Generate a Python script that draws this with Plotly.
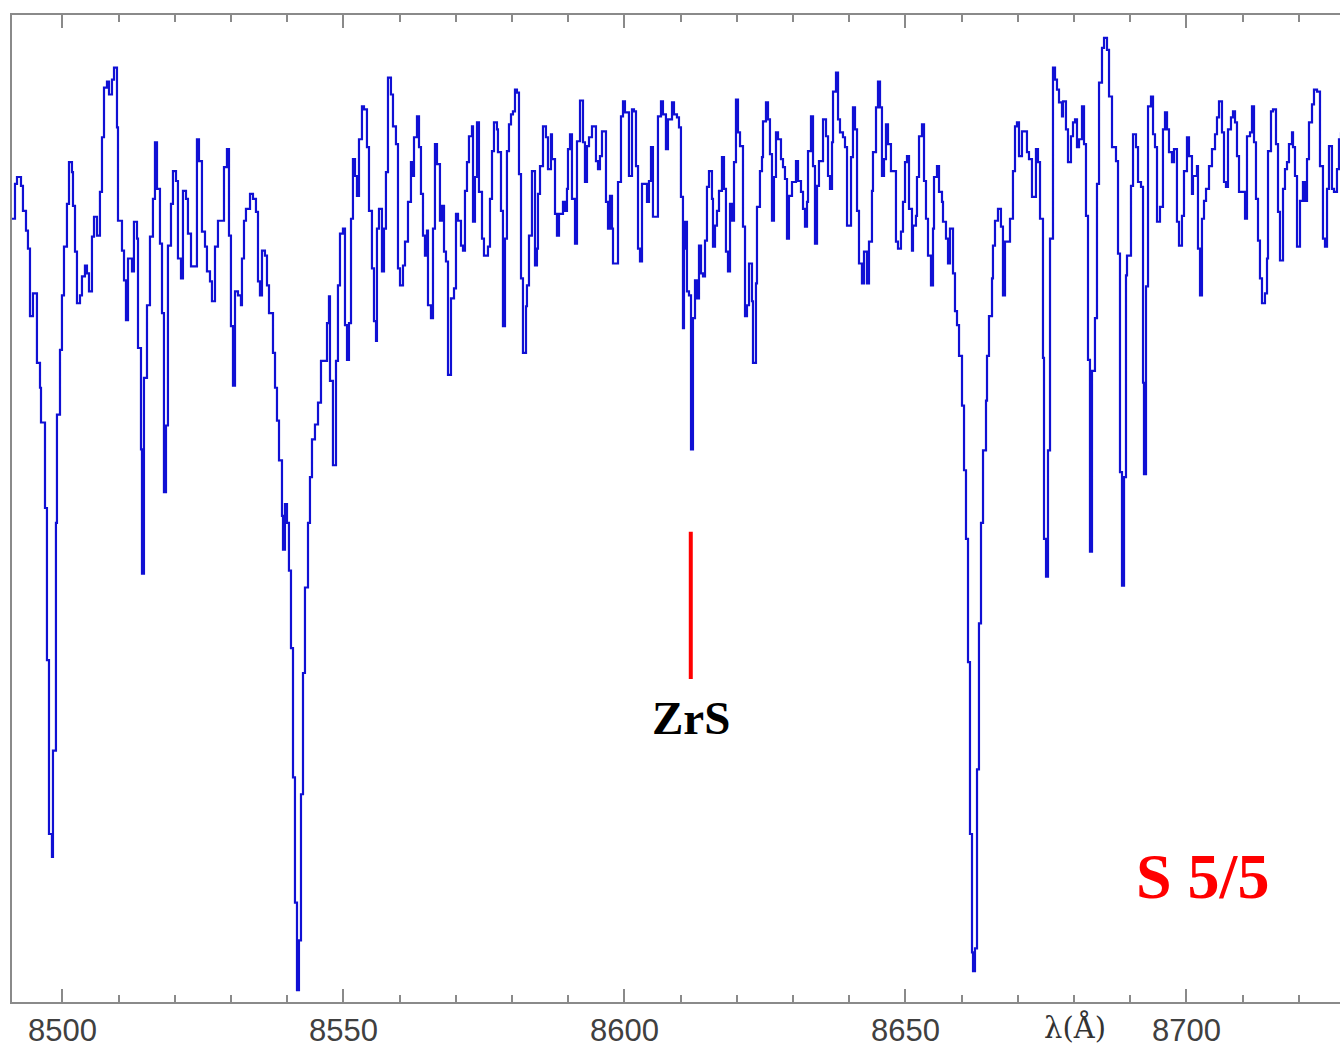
import plotly.graph_objects as go

# Observed spectrum of the S-type star around the Ca II triplet (step-binned)
wavelength = [
    8491.02, 8491.55, 8491.91, 8492.62, 8492.97, 8493.51, 8493.86, 8494.22, 8494.75, 8495.46,
    8496.00, 8496.18, 8496.89, 8497.24, 8497.60, 8498.13, 8498.31, 8498.84, 8499.02, 8499.56,
    8499.91, 8500.27, 8500.80, 8501.16, 8501.69, 8501.87, 8502.23, 8502.58, 8503.12, 8503.47,
    8504.00, 8504.36, 8504.72, 8505.25, 8505.61, 8506.14, 8506.67, 8507.03, 8507.39, 8507.92,
    8508.28, 8508.81, 8509.17, 8509.70, 8509.88, 8510.59, 8510.95, 8511.30, 8511.66, 8512.37,
    8512.72, 8513.26, 8513.44, 8513.97, 8514.15, 8514.50, 8515.04, 8515.57, 8516.10, 8516.46,
    8516.82, 8517.35, 8517.71, 8518.06, 8518.42, 8518.77, 8519.31, 8519.66, 8520.20, 8520.55,
    8521.09, 8521.44, 8521.98, 8522.33, 8522.87, 8523.93, 8524.29, 8524.82, 8525.36, 8525.71,
    8526.25, 8526.60, 8527.14, 8527.67, 8528.74, 8529.27, 8529.63, 8529.98, 8530.34, 8530.70,
    8531.23, 8531.76, 8531.94, 8532.30, 8532.65, 8533.37, 8533.90, 8534.43, 8534.79, 8535.14,
    8535.50, 8536.03, 8536.39, 8536.75, 8537.46, 8537.82, 8538.17, 8538.53, 8539.06, 8539.24,
    8539.59, 8539.95, 8540.30, 8540.66, 8541.02, 8541.37, 8541.73, 8542.08, 8542.44, 8542.80,
    8543.15, 8543.69, 8544.04, 8544.40, 8544.93, 8545.47, 8546.00, 8547.07, 8547.42, 8547.60,
    8548.13, 8548.67, 8549.02, 8549.38, 8549.91, 8550.27, 8550.63, 8550.98, 8551.34, 8551.69,
    8552.05, 8552.40, 8552.76, 8553.29, 8553.65, 8554.18, 8554.54, 8555.07, 8555.43, 8555.79,
    8555.96, 8556.32, 8556.85, 8557.21, 8557.56, 8557.92, 8558.45, 8558.81, 8559.34, 8559.70,
    8560.06, 8560.59, 8560.95, 8561.48, 8562.01, 8562.19, 8562.55, 8563.08, 8563.44, 8563.79,
    8564.15, 8564.50, 8564.86, 8565.04, 8565.57, 8565.93, 8566.28, 8566.64, 8567.17, 8567.53,
    8567.89, 8568.24, 8568.60, 8569.13, 8569.67, 8570.02, 8570.38, 8570.91, 8571.27, 8571.62,
    8571.98, 8572.33, 8572.87, 8573.05, 8573.40, 8573.76, 8574.11, 8574.65, 8575.00, 8575.71,
    8576.07, 8576.43, 8576.78, 8577.31, 8577.49, 8578.03, 8578.38, 8578.74, 8579.09, 8579.45,
    8579.81, 8580.16, 8580.52, 8580.87, 8581.23, 8581.59, 8581.94, 8582.48, 8582.65, 8583.01,
    8583.54, 8584.08, 8584.43, 8584.61, 8584.97, 8585.50, 8586.03, 8586.39, 8586.92, 8587.10,
    8587.64, 8587.99, 8588.35, 8589.06, 8589.42, 8589.77, 8589.95, 8590.31, 8590.66, 8591.20,
    8591.55, 8592.09, 8592.62, 8592.97, 8593.33, 8593.69, 8594.22, 8594.93, 8595.29, 8595.64,
    8596.00, 8596.71, 8597.07, 8597.42, 8597.78, 8597.96, 8598.85, 8599.38, 8599.74, 8600.09,
    8600.80, 8601.34, 8601.69, 8602.05, 8602.41, 8602.76, 8603.12, 8604.01, 8604.36, 8604.72,
    8605.07, 8605.96, 8606.50, 8606.85, 8607.38, 8607.74, 8608.46, 8608.81, 8609.34, 8609.70,
    8610.05, 8610.41, 8610.59, 8610.77, 8611.12, 8611.48, 8611.84, 8612.19, 8612.55, 8612.90,
    8613.26, 8613.62, 8613.97, 8614.33, 8614.68, 8615.04, 8615.57, 8615.75, 8616.11, 8616.46,
    8616.82, 8617.35, 8617.71, 8618.06, 8618.42, 8618.78, 8619.13, 8619.49, 8619.84, 8620.20,
    8620.56, 8621.09, 8621.45, 8621.80, 8622.16, 8622.69, 8622.87, 8623.40, 8623.58, 8624.11,
    8624.47, 8624.65, 8625.18, 8625.54, 8625.89, 8626.25, 8626.60, 8626.96, 8627.32, 8627.85,
    8628.21, 8628.56, 8628.92, 8629.27, 8629.81, 8630.52, 8630.88, 8631.41, 8631.77, 8632.12,
    8632.48, 8632.66, 8633.19, 8633.55, 8633.90, 8634.26, 8634.61, 8635.33, 8635.86, 8636.22,
    8636.57, 8636.93, 8637.11, 8637.64, 8638.00, 8638.35, 8638.88, 8639.24, 8639.60, 8640.31,
    8640.66, 8641.02, 8641.38, 8641.73, 8642.26, 8642.62, 8643.15, 8643.51, 8644.04, 8644.22,
    8644.76, 8645.11, 8645.47, 8645.82, 8646.18, 8646.53, 8646.89, 8647.42, 8648.31, 8648.67,
    8649.20, 8649.56, 8649.92, 8650.27, 8650.63, 8651.16, 8651.34, 8651.87, 8652.05, 8652.41,
    8652.94, 8653.30, 8653.65, 8654.01, 8654.54, 8654.90, 8655.08, 8655.61, 8655.97, 8656.50,
    8656.68, 8657.21, 8657.57, 8657.92, 8658.46, 8658.81, 8659.17, 8659.53, 8660.06, 8660.42,
    8660.77, 8661.13, 8661.48, 8661.84, 8662.02, 8662.37, 8662.73, 8663.08, 8663.44, 8663.80,
    8664.33, 8664.51, 8664.86, 8665.40, 8665.57, 8665.93, 8666.46, 8666.99, 8667.35, 8667.71,
    8668.60, 8669.13, 8669.49, 8669.84, 8670.20, 8670.73, 8671.62, 8671.98, 8672.51, 8673.22,
    8673.58, 8673.94, 8674.47, 8674.65, 8675.01, 8675.36, 8675.72, 8676.25, 8676.61, 8676.96,
    8677.32, 8677.85, 8678.03, 8678.56, 8678.92, 8679.45, 8679.81, 8680.17, 8680.52, 8680.88,
    8681.41, 8681.77, 8682.12, 8682.48, 8682.83, 8683.19, 8683.72, 8684.08, 8684.44, 8684.97,
    8685.33, 8685.86, 8686.22, 8686.75, 8687.46, 8687.82, 8688.17, 8688.53, 8688.89, 8689.24,
    8689.42, 8690.13, 8690.49, 8691.02, 8691.38, 8691.91, 8692.27, 8692.44, 8692.80, 8693.16,
    8693.69, 8694.05, 8694.40, 8694.76, 8695.29, 8695.82, 8696.18, 8696.54, 8696.89, 8697.42,
    8697.78, 8698.31, 8698.67, 8699.20, 8699.56, 8700.09, 8700.45, 8700.98, 8701.16, 8701.87,
    8702.05, 8702.41, 8702.76, 8703.12, 8703.48, 8704.01, 8704.54, 8705.08, 8705.43, 8705.79,
    8706.32, 8706.68, 8707.03, 8707.39, 8707.92, 8708.28, 8708.64, 8708.99, 8709.35, 8710.42,
    8710.77, 8711.31, 8711.66, 8712.02, 8712.37, 8712.73, 8713.08, 8713.44, 8713.97, 8714.33,
    8714.51, 8715.04, 8715.40, 8715.93, 8716.29, 8716.64, 8717.18, 8717.53, 8717.89, 8718.24,
    8718.78, 8718.96, 8719.31, 8719.67, 8720.20, 8720.73, 8721.09, 8721.45, 8721.80, 8722.34,
    8722.69, 8723.23, 8723.76, 8724.29, 8724.65, 8725.01, 8725.36, 8725.89, 8726.25, 8726.78,
    8727.14, 8727.50,
]

flux = [
    0.788, 0.823, 0.830, 0.821, 0.796, 0.776, 0.758, 0.690, 0.713, 0.643,
    0.618, 0.583, 0.497, 0.344, 0.169, 0.146, 0.253, 0.482, 0.591, 0.656,
    0.711, 0.760, 0.803, 0.845, 0.835, 0.801, 0.755, 0.703, 0.711, 0.730,
    0.741, 0.733, 0.715, 0.770, 0.790, 0.771, 0.815, 0.870, 0.920, 0.926,
    0.913, 0.928, 0.940, 0.880, 0.786, 0.756, 0.726, 0.686, 0.748, 0.735,
    0.785, 0.768, 0.658, 0.556, 0.431, 0.628, 0.701, 0.770, 0.808, 0.865,
    0.818, 0.763, 0.693, 0.513, 0.580, 0.761, 0.803, 0.836, 0.826, 0.748,
    0.728, 0.816, 0.808, 0.773, 0.740, 0.868, 0.846, 0.775, 0.760, 0.735,
    0.725, 0.705, 0.760, 0.786, 0.840, 0.858, 0.771, 0.680, 0.620, 0.715,
    0.711, 0.701, 0.748, 0.786, 0.798, 0.813, 0.808, 0.795, 0.725, 0.711,
    0.756, 0.751, 0.721, 0.693, 0.653, 0.618, 0.585, 0.545, 0.489, 0.455,
    0.501, 0.482, 0.434, 0.356, 0.226, 0.100, 0.012, 0.062, 0.209, 0.331,
    0.417, 0.482, 0.528, 0.566, 0.581, 0.603, 0.645, 0.683, 0.710, 0.625,
    0.540, 0.645, 0.721, 0.773, 0.778, 0.681, 0.646, 0.683, 0.788, 0.848,
    0.831, 0.811, 0.868, 0.901, 0.898, 0.860, 0.796, 0.738, 0.685, 0.665,
    0.778, 0.798, 0.735, 0.778, 0.835, 0.930, 0.913, 0.881, 0.863, 0.738,
    0.721, 0.741, 0.765, 0.805, 0.845, 0.831, 0.870, 0.891, 0.860, 0.813,
    0.771, 0.751, 0.776, 0.701, 0.688, 0.778, 0.863, 0.843, 0.786, 0.801,
    0.755, 0.745, 0.631, 0.708, 0.718, 0.793, 0.786, 0.761, 0.756, 0.816,
    0.845, 0.871, 0.881, 0.785, 0.830, 0.885, 0.815, 0.768, 0.751, 0.760,
    0.808, 0.856, 0.885, 0.878, 0.855, 0.796, 0.680, 0.768, 0.856, 0.883,
    0.893, 0.896, 0.918, 0.915, 0.833, 0.728, 0.653, 0.700, 0.721, 0.771,
    0.836, 0.741, 0.758, 0.813, 0.841, 0.881, 0.870, 0.838, 0.873, 0.848,
    0.793, 0.771, 0.793, 0.805, 0.796, 0.818, 0.858, 0.873, 0.808, 0.763,
    0.866, 0.907, 0.865, 0.825, 0.861, 0.870, 0.881, 0.846, 0.838, 0.851,
    0.876, 0.805, 0.778, 0.811, 0.778, 0.743, 0.825, 0.891, 0.906, 0.895,
    0.831, 0.898, 0.896, 0.841, 0.758, 0.745, 0.823, 0.805, 0.826, 0.860,
    0.790, 0.891, 0.906, 0.893, 0.858, 0.888, 0.905, 0.893, 0.890, 0.880,
    0.810, 0.678, 0.758, 0.785, 0.715, 0.711, 0.556, 0.688, 0.726, 0.708,
    0.761, 0.733, 0.730, 0.766, 0.820, 0.836, 0.808, 0.760, 0.781, 0.796,
    0.816, 0.850, 0.818, 0.755, 0.735, 0.803, 0.786, 0.845, 0.908, 0.875,
    0.861, 0.780, 0.690, 0.701, 0.743, 0.705, 0.643, 0.723, 0.800, 0.836,
    0.850, 0.886, 0.905, 0.888, 0.853, 0.786, 0.830, 0.875, 0.868, 0.848,
    0.840, 0.828, 0.768, 0.811, 0.825, 0.846, 0.826, 0.815, 0.798, 0.780,
    0.805, 0.856, 0.891, 0.841, 0.763, 0.821, 0.846, 0.888, 0.871, 0.831,
    0.818, 0.865, 0.916, 0.935, 0.888, 0.875, 0.870, 0.860, 0.781, 0.850,
    0.900, 0.878, 0.796, 0.743, 0.723, 0.755, 0.723, 0.765, 0.816, 0.855,
    0.900, 0.926, 0.900, 0.831, 0.848, 0.883, 0.863, 0.836, 0.765, 0.758,
    0.775, 0.805, 0.845, 0.851, 0.798, 0.756, 0.781, 0.791, 0.830, 0.871,
    0.883, 0.826, 0.788, 0.751, 0.721, 0.778, 0.830, 0.841, 0.815, 0.805,
    0.785, 0.768, 0.743, 0.778, 0.733, 0.695, 0.681, 0.650, 0.600, 0.535,
    0.466, 0.342, 0.169, 0.050, 0.031, 0.054, 0.234, 0.381, 0.482, 0.555,
    0.605, 0.650, 0.690, 0.728, 0.761, 0.786, 0.798, 0.780, 0.711, 0.765,
    0.788, 0.836, 0.881, 0.885, 0.851, 0.876, 0.855, 0.848, 0.810, 0.858,
    0.845, 0.788, 0.648, 0.466, 0.428, 0.555, 0.768, 0.940, 0.928, 0.918,
    0.905, 0.891, 0.906, 0.878, 0.845, 0.871, 0.885, 0.888, 0.860, 0.868,
    0.901, 0.863, 0.791, 0.646, 0.453, 0.635, 0.688, 0.823, 0.925, 0.960,
    0.970, 0.958, 0.911, 0.860, 0.846, 0.753, 0.533, 0.419, 0.528, 0.731,
    0.751, 0.821, 0.873, 0.860, 0.825, 0.820, 0.623, 0.531, 0.720, 0.901,
    0.911, 0.873, 0.860, 0.785, 0.800, 0.878, 0.895, 0.878, 0.855, 0.845,
    0.858, 0.785, 0.761, 0.791, 0.836, 0.870, 0.851, 0.813, 0.831, 0.841,
    0.758, 0.711, 0.788, 0.806, 0.818, 0.841, 0.858, 0.873, 0.890, 0.906,
    0.875, 0.825, 0.820, 0.878, 0.890, 0.896, 0.885, 0.851, 0.815, 0.788,
    0.871, 0.875, 0.901, 0.865, 0.808, 0.766, 0.728, 0.703, 0.713, 0.748,
    0.856, 0.896, 0.898, 0.863, 0.795, 0.746, 0.818, 0.838, 0.845, 0.863,
    0.875, 0.860, 0.831, 0.760, 0.806, 0.825, 0.806, 0.848, 0.885, 0.903,
    0.918, 0.916, 0.841, 0.768, 0.760, 0.818, 0.861, 0.818, 0.815, 0.838,
    0.868, 0.875,
]

# ZrS band head marker
zrs_wavelength = 8611.8
zrs_tick = [0.325, 0.473]
zrs_label_flux = 0.286

spectral_class = "S 5/5"
x_range = [8491.02, 8727.32]
y_range = [0.0, 0.993]

axis_grey = "#8a8a8a"

fig = go.Figure()
fig.add_trace(go.Scatter(
    x=wavelength, y=flux, mode="lines", line_shape="hv",
    line=dict(color="#1010d4", width=2.2), showlegend=False, hoverinfo="skip",
))

# red marker for the ZrS feature
fig.add_trace(go.Scatter(
    x=[zrs_wavelength, zrs_wavelength], y=zrs_tick, mode="lines",
    line=dict(color="#ff0000", width=4), showlegend=False, hoverinfo="skip",
))

# empty trace on the top axis so its ticks are drawn
fig.add_trace(go.Scatter(
    x=x_range, y=[None, None], xaxis="x2", mode="lines",
    showlegend=False, hoverinfo="skip",
))

fig.add_annotation(
    x=zrs_wavelength, y=zrs_label_flux, text="<b>ZrS</b>", showarrow=False,
    font=dict(family="Liberation Serif", size=47, color="#000000"),
    xanchor="center", yanchor="middle",
)
fig.add_annotation(
    x=8702.9, y=0.126, text="<b>" + spectral_class + "</b>", showarrow=False,
    font=dict(family="Liberation Serif", size=64, color="#ff0000"),
    xanchor="center", yanchor="middle",
)
fig.add_annotation(
    x=8680.2, y=-0.026, yref="paper", text="λ(Å)", showarrow=False,
    font=dict(family="DejaVu Serif", size=29, color="#333333"),
    xanchor="center", yanchor="middle",
)

tick_style = dict(
    showgrid=False, zeroline=False,
    showline=True, linecolor=axis_grey, linewidth=2,
    ticks="inside", ticklen=13, tickwidth=2, tickcolor=axis_grey,
    tick0=8500, dtick=50,
    minor=dict(dtick=10, tick0=8500, ticks="inside", ticklen=7, tickwidth=2,
               tickcolor=axis_grey, showgrid=False),
)

fig.update_layout(
    width=1340, height=1048,
    margin=dict(l=12, r=0, t=15, b=40),
    paper_bgcolor="white", plot_bgcolor="white",
    xaxis=dict(
        range=x_range, mirror=False,
        tickfont=dict(family="Liberation Sans", size=31, color="#404040"),
        **tick_style,
    ),
    xaxis2=dict(
        range=x_range, overlaying="x", side="top", matches="x",
        showticklabels=False, anchor="y",
        **tick_style,
    ),
    yaxis=dict(
        range=y_range, showgrid=False, zeroline=False,
        showline=True, linecolor=axis_grey, linewidth=2, mirror=False,
        ticks="", showticklabels=False,
    ),
)

fig.write_html("out.html")
